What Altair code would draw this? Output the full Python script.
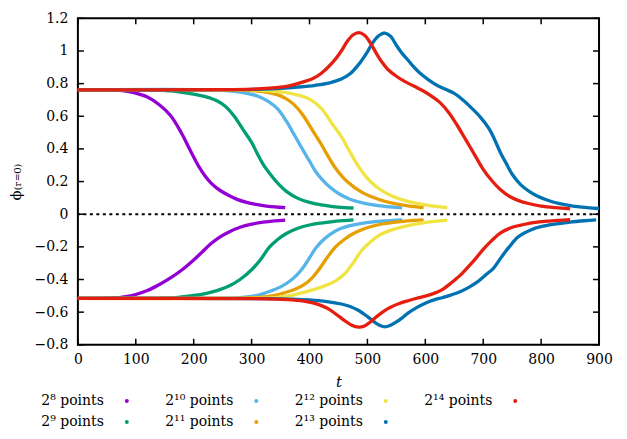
import altair as alt
import pandas as pd

FONT = "DejaVu Serif"

SERIES = ["2⁸ points", "2⁹ points", "2¹⁰ points", "2¹¹ points",
          "2¹² points", "2¹³ points", "2¹⁴ points"]
COLORS = ["#9400d3", "#009e73", "#56b4e9", "#e69f00", "#f0e442", "#0072b2", "#e51e10"]
LEG_COL = [0, 0, 1, 1, 2, 2, 3]
LEG_ROW = [0, 1, 0, 1, 0, 1, 0]
X_TICKS = [0, 100, 200, 300, 400, 500, 600, 700, 800, 900]
Y_TICKS = [-0.8, -0.6, -0.4, -0.2, 0, 0.2, 0.4, 0.6, 0.8, 1.0, 1.2]

# 2^8
T8U = [0, 40, 60, 80, 100, 120, 140, 160, 180, 190, 200, 210, 220, 230, 240, 250, 260, 275, 290, 305, 320, 340, 358]
P8U = [0.762, 0.762, 0.760, 0.755, 0.742, 0.718, 0.672, 0.605, 0.49, 0.42, 0.35, 0.285, 0.232, 0.19, 0.16, 0.136, 0.116, 0.091, 0.074, 0.062, 0.053, 0.045, 0.04]
T8L = [0, 40, 60, 80, 100, 120, 140, 160, 180, 200, 215, 230, 245, 260, 280, 300, 320, 340, 358]
P8L = [-0.515, -0.515, -0.513, -0.506, -0.492, -0.468, -0.432, -0.39, -0.34, -0.28, -0.23, -0.18, -0.14, -0.11, -0.08, -0.061, -0.049, -0.041, -0.036]
# 2^9
T9U = [0, 140, 160, 180, 200, 220, 240, 255, 270, 285, 300, 310, 320, 330, 345, 360, 380, 400, 420, 440, 460, 476]
P9U = [0.762, 0.761, 0.755, 0.746, 0.735, 0.72, 0.695, 0.66, 0.6, 0.52, 0.44, 0.37, 0.305, 0.255, 0.19, 0.14, 0.097, 0.072, 0.057, 0.047, 0.041, 0.038]
T9L = [0, 140, 170, 200, 220, 240, 260, 280, 300, 315, 330, 345, 360, 380, 400, 420, 440, 460, 476]
P9L = [-0.515, -0.515, -0.511, -0.498, -0.486, -0.468, -0.442, -0.4, -0.34, -0.28, -0.205, -0.155, -0.118, -0.086, -0.066, -0.054, -0.045, -0.039, -0.035]
# 2^10
T10U = [0, 240, 270, 290, 310, 330, 345, 360, 375, 390, 400, 410, 420, 435, 450, 470, 490, 510, 530, 545, 560]
P10U = [0.762, 0.761, 0.753, 0.742, 0.724, 0.688, 0.645, 0.57, 0.478, 0.385, 0.325, 0.265, 0.22, 0.166, 0.127, 0.092, 0.071, 0.057, 0.048, 0.043, 0.039]
T10L = [0, 240, 280, 310, 335, 350, 365, 380, 390, 400, 410, 420, 435, 450, 470, 490, 510, 530, 545, 560]
P10L = [-0.515, -0.515, -0.511, -0.497, -0.468, -0.445, -0.412, -0.365, -0.322, -0.268, -0.212, -0.17, -0.125, -0.093, -0.07, -0.056, -0.047, -0.041, -0.038, -0.035]
# 2^11
T11U = [0, 270, 300, 330, 350, 365, 378, 390, 405, 420, 430, 445, 465, 490, 520, 545, 570, 597]
P11U = [0.762, 0.761, 0.757, 0.745, 0.725, 0.695, 0.655, 0.6, 0.515, 0.43, 0.368, 0.282, 0.2, 0.135, 0.09, 0.066, 0.051, 0.04]
T11L = [0, 280, 310, 340, 360, 375, 390, 405, 415, 430, 445, 460, 475, 490, 505, 525, 545, 570, 597]
P11L = [-0.515, -0.515, -0.511, -0.497, -0.478, -0.46, -0.433, -0.388, -0.345, -0.268, -0.2, -0.155, -0.12, -0.095, -0.077, -0.06, -0.05, -0.041, -0.035]
# 2^12
T12U = [0, 290, 330, 360, 380, 400, 420, 440, 455, 470, 485, 500, 515, 530, 550, 570, 590, 610, 638]
P12U = [0.762, 0.761, 0.756, 0.745, 0.73, 0.705, 0.65, 0.55, 0.475, 0.38, 0.29, 0.22, 0.17, 0.134, 0.101, 0.079, 0.063, 0.051, 0.04]
T12L = [0, 300, 340, 370, 390, 410, 430, 445, 460, 475, 490, 505, 520, 535, 550, 570, 590, 610, 638]
P12L = [-0.515, -0.515, -0.511, -0.497, -0.479, -0.459, -0.434, -0.408, -0.368, -0.3, -0.222, -0.17, -0.13, -0.105, -0.088, -0.07, -0.057, -0.046, -0.036]
# 2^13
T13U = [0, 280, 320, 350, 380, 410, 435, 455, 470, 485, 500, 510, 520, 530, 540, 550, 560, 570, 580, 590, 605, 620, 635, 650, 665, 680, 695, 710, 720, 730, 740, 750, 765, 780, 795, 810, 830, 855, 880, 900]
P13U = [0.762, 0.763, 0.766, 0.771, 0.779, 0.79, 0.805, 0.828, 0.86, 0.918, 0.995, 1.055, 1.095, 1.11, 1.09, 1.035, 0.985, 0.945, 0.902, 0.866, 0.825, 0.79, 0.765, 0.74, 0.7, 0.65, 0.595, 0.525, 0.455, 0.375, 0.31, 0.245, 0.18, 0.138, 0.108, 0.087, 0.066, 0.05, 0.04, 0.035]
T13L = [0, 330, 370, 400, 430, 455, 470, 485, 500, 512, 522, 530, 540, 550, 560, 570, 585, 600, 615, 630, 645, 660, 675, 690, 705, 718, 730, 745, 760, 775, 790, 810, 830, 850, 875, 895]
P13L = [-0.515, -0.517, -0.52, -0.525, -0.535, -0.55, -0.565, -0.59, -0.627, -0.66, -0.682, -0.69, -0.68, -0.66, -0.635, -0.606, -0.572, -0.545, -0.525, -0.51, -0.494, -0.475, -0.448, -0.415, -0.37, -0.33, -0.27, -0.2, -0.14, -0.108, -0.085, -0.068, -0.057, -0.048, -0.04, -0.035]
# 2^14
T14U = [0, 250, 300, 330, 360, 385, 405, 420, 440, 455, 465, 475, 485, 495, 505, 515, 525, 535, 550, 565, 580, 595, 610, 625, 640, 655, 670, 685, 700, 715, 730, 745, 760, 780, 800, 825, 850]
P14U = [0.762, 0.763, 0.766, 0.772, 0.783, 0.806, 0.83, 0.862, 0.93, 1.0, 1.058, 1.098, 1.112, 1.096, 1.05, 0.988, 0.932, 0.888, 0.845, 0.812, 0.785, 0.758, 0.725, 0.685, 0.625, 0.545, 0.455, 0.365, 0.275, 0.205, 0.15, 0.11, 0.085, 0.064, 0.05, 0.04, 0.033]
T14L = [0, 300, 340, 370, 395, 415, 430, 445, 460, 472, 485, 495, 505, 515, 528, 540, 555, 570, 585, 600, 615, 630, 645, 660, 672, 685, 700, 715, 730, 750, 770, 790, 810, 830, 850]
P14L = [-0.515, -0.517, -0.52, -0.525, -0.535, -0.552, -0.575, -0.61, -0.65, -0.678, -0.692, -0.685, -0.66, -0.63, -0.595, -0.57, -0.547, -0.53, -0.515, -0.502, -0.485, -0.46, -0.42, -0.375, -0.33, -0.28, -0.215, -0.16, -0.115, -0.08, -0.063, -0.05, -0.043, -0.038, -0.034]

BRANCHES = [
    (T8U, P8U, T8L, P8L), (T9U, P9U, T9L, P9L), (T10U, P10U, T10L, P10L),
    (T11U, P11U, T11L, P11L), (T12U, P12U, T12L, P12L), (T13U, P13U, T13L, P13L),
    (T14U, P14U, T14L, P14L),
]

W, H = 522, 327

color_scale = alt.Scale(domain=SERIES, range=COLORS)
X_ENC = alt.X("t:Q", scale=alt.Scale(domain=[0, 900], nice=False, zero=False),
              axis=alt.Axis(values=X_TICKS, title="t", titleFontStyle="italic",
                            labelPadding=8, titlePadding=8, labelFlush=False))
Y_ENC = alt.Y("phi:Q", scale=alt.Scale(domain=[-0.8, 1.2], nice=False, zero=False),
              axis=alt.Axis(values=Y_TICKS, format="~g", title="ϕ₍ᵣ₌₀₎",
                            labelPadding=10, titlePadding=10, labelFlush=False))

layers = []
zero_df = pd.DataFrame({"phi": [0]})
layers.append(alt.Chart(zero_df).mark_rule(color="black", strokeWidth=2, strokeDash=[3, 3.5])
              .encode(y=Y_ENC))

for name, (tu, pu, tl, pl) in zip(SERIES, BRANCHES):
    df = pd.concat([
        pd.DataFrame({"t": tu, "phi": pu, "branch": "up"}),
        pd.DataFrame({"t": tl, "phi": pl, "branch": "low"}),
    ])
    df["series"] = name
    layers.append(
        alt.Chart(df).mark_line(strokeWidth=3.3, interpolate="catmull-rom").encode(
            x=X_ENC, y=Y_ENC,
            color=alt.Color("series:N", scale=color_scale, legend=None),
            detail="branch:N",
        )
    )

xt = pd.DataFrame({"t": X_TICKS})
yt = pd.DataFrame({"phi": Y_TICKS})
tick_style = dict(color="black", strokeWidth=1.5)
layers.append(alt.Chart(xt).mark_rule(**tick_style).encode(x=X_ENC, y=alt.value(H), y2=alt.value(H - 6)))
layers.append(alt.Chart(xt).mark_rule(**tick_style).encode(x=X_ENC, y=alt.value(0), y2=alt.value(6)))
layers.append(alt.Chart(yt).mark_rule(**tick_style).encode(y=Y_ENC, x=alt.value(0), x2=alt.value(6)))
layers.append(alt.Chart(yt).mark_rule(**tick_style).encode(y=Y_ENC, x=alt.value(W), x2=alt.value(W - 6)))

main = alt.layer(*layers).properties(
    width=W, height=H,
    view=alt.ViewBackground(stroke="black", strokeWidth=2),
)

leg_df = pd.DataFrame({"series": SERIES, "col": LEG_COL, "row": LEG_ROW})
LX = alt.X("col:Q", scale=alt.Scale(domain=[-0.378, 3.647], nice=False, zero=False), axis=None)
LY = alt.Y("row:Q", scale=alt.Scale(domain=[-0.44, 1.56], nice=False, zero=False, reverse=True), axis=None)
leg_text = alt.Chart(leg_df).mark_text(align="right", baseline="middle", dx=-23,
                                       font=FONT, fontSize=14, color="black").encode(
    x=LX, y=LY, text="series:N")
leg_dot = alt.Chart(leg_df).mark_circle(size=16, opacity=1).encode(
    x=LX, y=LY, color=alt.Color("series:N", scale=color_scale, legend=None))
legend = alt.layer(leg_text, leg_dot).properties(
    width=W, height=42, view=alt.ViewBackground(stroke="transparent"))

chart = alt.vconcat(main, legend, spacing=0).properties(
    padding={"left": 0, "top": 2, "right": 5, "bottom": 0}
).configure_axis(
    labelFont=FONT, titleFont=FONT, labelFontSize=14, titleFontSize=15,
    labelColor="black", titleColor="black", titleFontWeight="normal",
    grid=False, domain=False, ticks=False, tickSize=0,
)

chart.save("out.html", embed_options={"renderer": "svg", "actions": False})
